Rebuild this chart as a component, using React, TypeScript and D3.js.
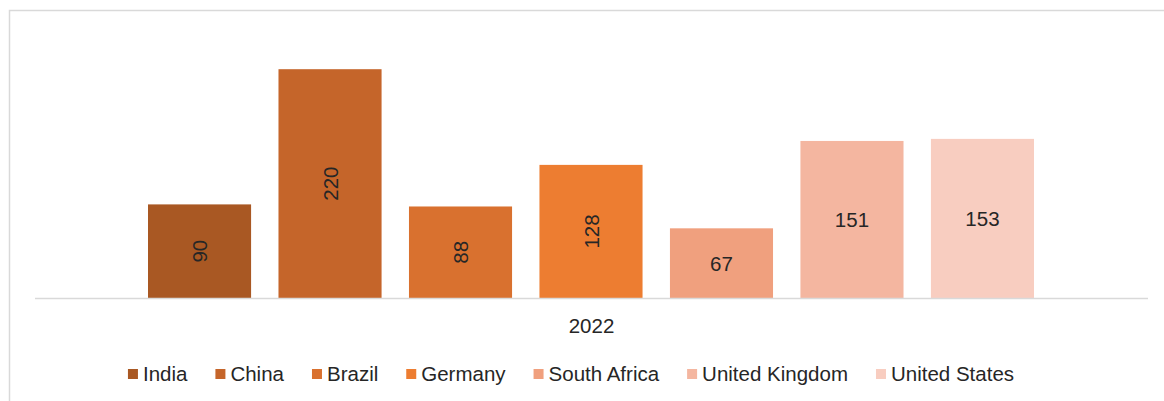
import React, { useEffect, useRef } from 'react';
import * as d3 from 'd3';

// Chart data
const year = '2022';
const countries = ['India', 'China', 'Brazil', 'Germany', 'South Africa', 'United Kingdom', 'United States'];
const values = [90, 220, 88, 128, 67, 151, 153];
const colors = ['#a95823', '#c5652a', '#d9712f', '#ed7d31', '#f0a07e', '#f4b6a0', '#f8cdc0'];
// Excel rotates the labels of the first four bars
const rotatedLabel = [true, true, true, true, false, false, false];

const WIDTH = 1164;
const HEIGHT = 401;
const FONT = 'Arial, "Liberation Sans", sans-serif';
const TEXT = '#262626';
const FONT_SIZE = 20.5;

const App: React.FC = () => {
  const svgRef = useRef<SVGSVGElement>(null);

  useEffect(() => {
    if (!svgRef.current) return;
    const svg = d3.select(svgRef.current);
    svg.selectAll('*').remove();

    // chart frame (runs off the right / bottom edge)
    svg.append('rect')
      .attr('x', 9.5)
      .attr('y', 10.5)
      .attr('width', WIDTH + 20)
      .attr('height', HEIGHT + 20)
      .attr('fill', '#fff')
      .attr('stroke', '#d9d9d9')
      .attr('stroke-width', 1.5);

    const plotLeft = 35;
    const plotRight = 1148;
    const baseline = 298;

    const x = d3.scaleBand<string>()
      .domain(countries)
      .range([148, 1034])
      .paddingInner(0.21)
      .paddingOuter(0);

    const y = d3.scaleLinear()
      .domain([0, 250])
      .range([baseline, baseline - 260]);

    const g = svg.append('g');

    g.selectAll('rect.bar')
      .data(countries)
      .enter()
      .append('rect')
      .classed('bar', true)
      .attr('x', d => x(d)!)
      .attr('y', (d, i) => y(values[i]))
      .attr('width', x.bandwidth())
      .attr('height', (d, i) => baseline - y(values[i]))
      .attr('fill', (d, i) => colors[i]);

    // horizontal axis line
    g.append('line')
      .attr('x1', plotLeft)
      .attr('x2', plotRight)
      .attr('y1', baseline + 0.5)
      .attr('y2', baseline + 0.5)
      .attr('stroke', '#d9d9d9')
      .attr('stroke-width', 1.5);

    // value labels
    g.selectAll('text.value')
      .data(countries)
      .enter()
      .append('text')
      .classed('value', true)
      .attr('transform', (d, i) => {
        const cx = x(d)! + x.bandwidth() / 2;
        const cy = (y(values[i]) + baseline) / 2;
        return `translate(${cx},${cy})` + (rotatedLabel[i] ? ' rotate(-90)' : '');
      })
      .attr('text-anchor', 'middle')
      .attr('dominant-baseline', 'central')
      .attr('font-family', FONT)
      .attr('font-size', FONT_SIZE)
      .attr('fill', TEXT)
      .text((d, i) => values[i]);

    // category label
    g.append('text')
      .attr('x', (plotLeft + plotRight) / 2)
      .attr('y', 325)
      .attr('text-anchor', 'middle')
      .attr('dominant-baseline', 'central')
      .attr('font-family', FONT)
      .attr('font-size', FONT_SIZE)
      .attr('fill', TEXT)
      .text(year);

    // legend, laid out from measured text widths
    const legend = svg.append('g');
    const items = legend.selectAll('g.item')
      .data(countries)
      .enter()
      .append('g')
      .classed('item', true);

    items.append('rect')
      .attr('width', 10)
      .attr('height', 10)
      .attr('y', -4)
      .attr('fill', (d, i) => colors[i]);

    const labels = items.append('text')
      .attr('x', 15)
      .attr('dominant-baseline', 'central')
      .attr('font-family', FONT)
      .attr('font-size', FONT_SIZE)
      .attr('fill', TEXT)
      .text(d => d);

    const widths: number[] = [];
    labels.each(function () {
      widths.push((this as SVGTextElement).getComputedTextLength());
    });
    const gap = 28;
    const offsets: number[] = [];
    let acc = 0;
    widths.forEach(w => {
      offsets.push(acc);
      acc += 15 + w + gap;
    });
    const total = acc - gap;
    const startX = 571 - total / 2;
    items.attr('transform', (d, i) => `translate(${startX + offsets[i]},373)`);
  }, []);

  return (
    <svg
      ref={svgRef}
      width={WIDTH}
      height={HEIGHT}
      style={{ position: 'absolute', left: 0, top: 0, display: 'block', background: '#fff' }}
    />
  );
};

export default App;
